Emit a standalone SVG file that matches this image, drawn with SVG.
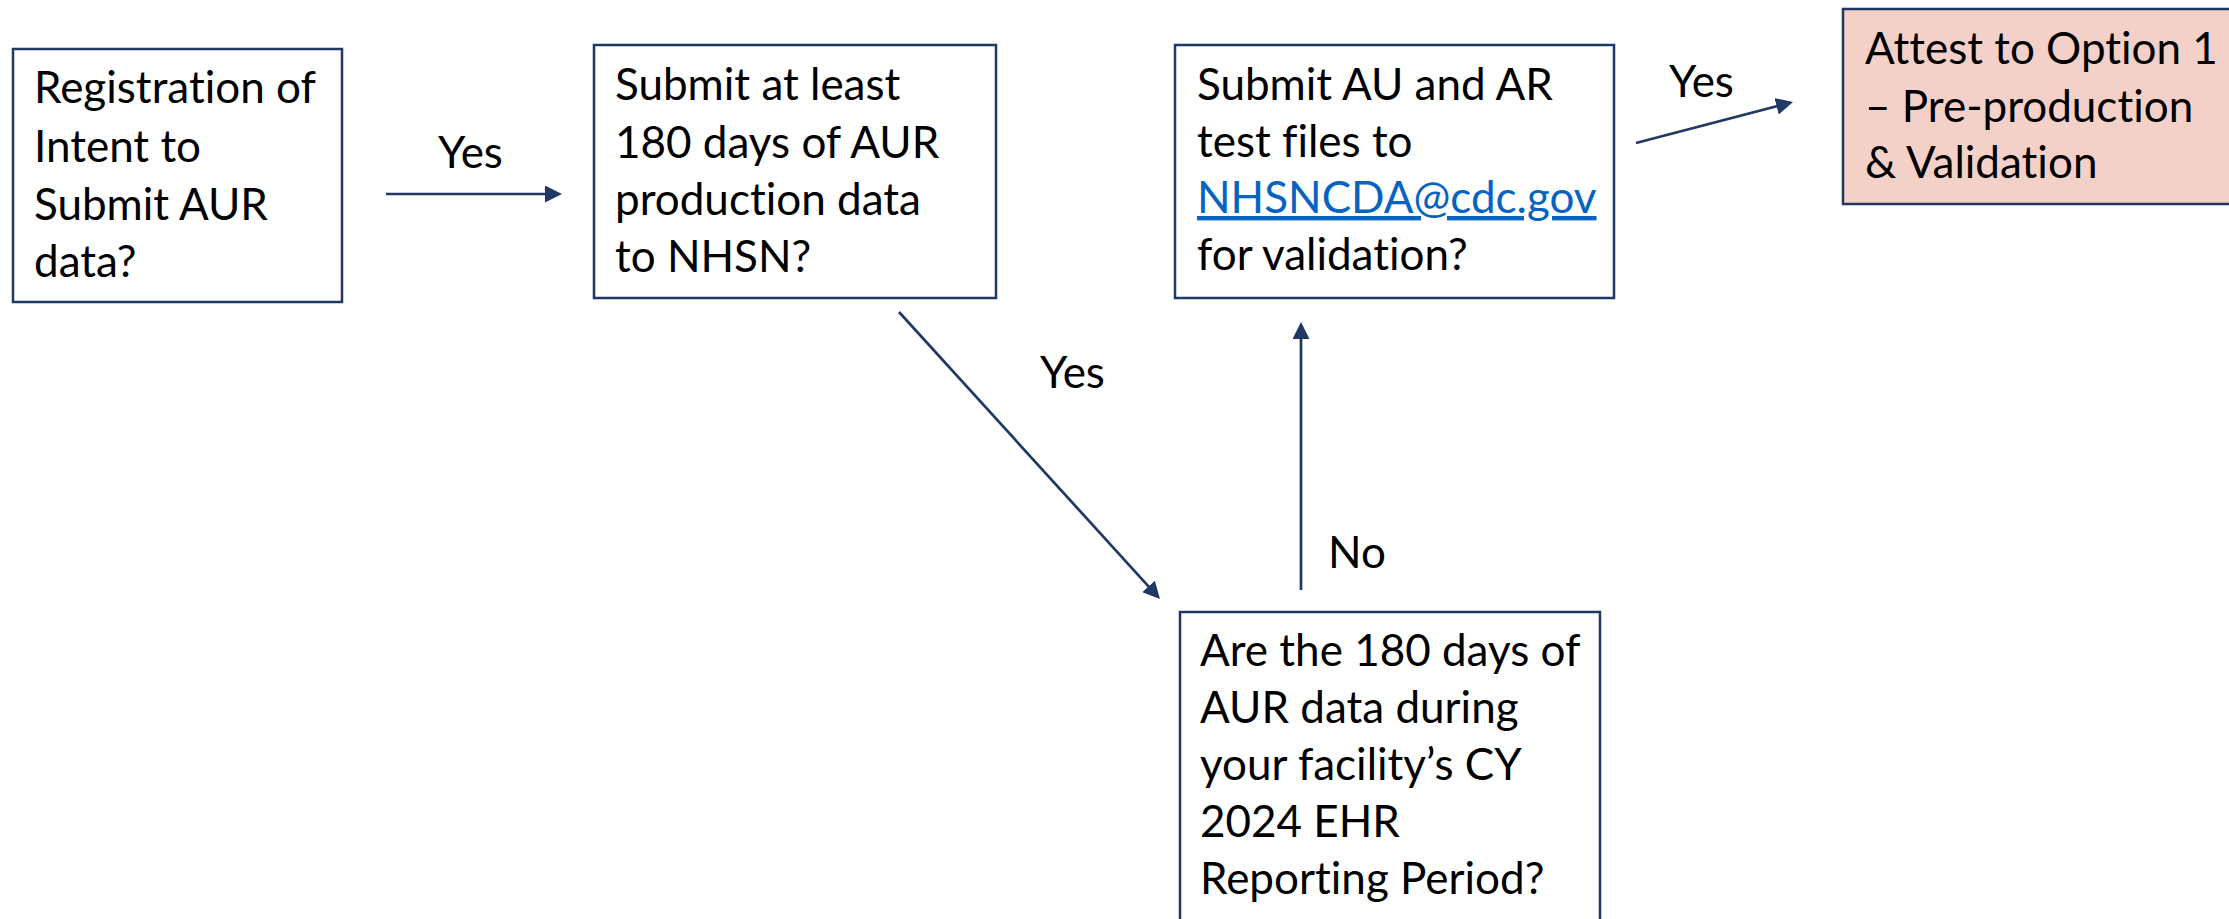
<svg xmlns="http://www.w3.org/2000/svg" width="2229" height="919" viewBox="0 0 2229 919">
<style>
.box{fill:#ffffff;stroke:#1F3864;stroke-width:2.5}
.pink{fill:#F3D1C9;stroke:#1F3864;stroke-width:2.5}
.t{font-family:Lato,"Liberation Sans",sans-serif;font-size:44px;fill:#000000;font-variant-ligatures:none;font-feature-settings:"liga" 0}
.link{fill:#0563C1;text-decoration:underline}
.conn{stroke:#1F3864;stroke-width:2.7;fill:none;marker-end:url(#ah)}
</style>
<defs>
<marker id="ah" markerUnits="userSpaceOnUse" markerWidth="17" markerHeight="17" viewBox="0 0 17 17" refX="5" refY="8.5" orient="auto">
<path d="M0,0 L17,8.5 L0,17 z" fill="#1F3864"/>
</marker>
</defs>
<rect width="2229" height="919" fill="#ffffff"/>
<g id="connectors">
<line class="conn" x1="386" y1="194" x2="550" y2="194"/>
<line class="conn" x1="899" y1="312" x2="1151.9" y2="590.1"/>
<line class="conn" x1="1301" y1="590" x2="1301" y2="334"/>
<line class="conn" x1="1636" y1="143" x2="1781.4" y2="105"/>
<text class="t" x="438" y="168">Yes</text>
<text class="t" x="1040" y="388">Yes</text>
<text class="t" x="1328" y="568">No</text>
<text class="t" x="1669" y="97">Yes</text>
</g>
<g id="n1">
<rect class="box" x="13" y="49" width="329" height="253"/>
<text class="t" x="34" y="103">Registration of</text>
<text class="t" x="34" y="162">Intent to</text>
<text class="t" x="34" y="220">Submit AUR</text>
<text class="t" x="34" y="277">data?</text>
</g>
<g id="n2">
<rect class="box" x="594" y="45" width="402" height="253"/>
<text class="t" x="615" y="100">Submit at least</text>
<text class="t" x="615" y="158">180 days of AUR</text>
<text class="t" x="615" y="215">production data</text>
<text class="t" x="615" y="272">to NHSN?</text>
</g>
<g id="n3">
<rect class="box" x="1175" y="45" width="439" height="253"/>
<text class="t" x="1197" y="100">Submit AU and AR</text>
<text class="t" x="1197" y="157">test files to</text>
<text class="t link" x="1197" y="213">NHSNCDA@cdc.gov</text>
<text class="t" x="1197" y="270">for validation?</text>
</g>
<g id="n4">
<rect class="pink" x="1843" y="9" width="400" height="195"/>
<text class="t" x="1865" y="64">Attest to Option 1</text>
<text class="t" x="1865" y="122">– Pre-production</text>
<text class="t" x="1865" y="178">&amp; Validation</text>
</g>
<g id="n5">
<rect class="box" x="1180" y="612" width="420" height="320"/>
<text class="t" x="1200" y="666">Are the 180 days of</text>
<text class="t" x="1200" y="723">AUR data during</text>
<text class="t" x="1200" y="780">your facility’s CY</text>
<text class="t" x="1200" y="837">2024 EHR</text>
<text class="t" x="1200" y="894">Reporting Period?</text>
</g>
</svg>
